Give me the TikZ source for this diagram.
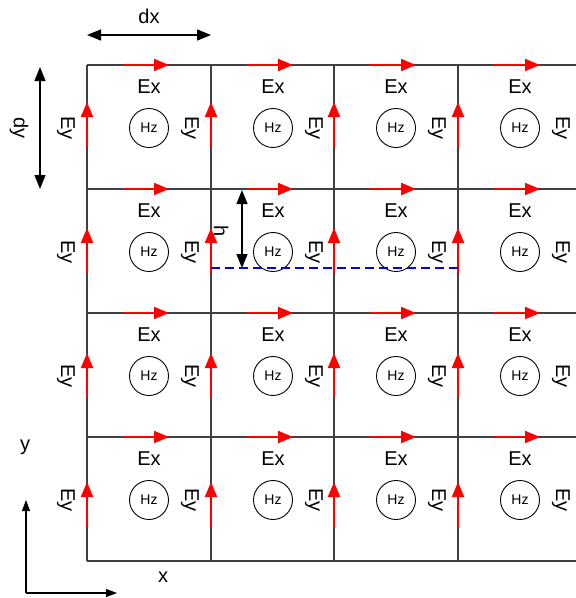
\documentclass[tikz,border=0pt]{standalone}
\usepackage{fontspec}
\setmainfont{Liberation Sans}
\usetikzlibrary{arrows.meta}
\begin{document}
\begin{tikzpicture}
[x=1pt,y=-1pt,every node/.style={inner sep=0pt},
 grid/.style={draw=black!75,line width=1.3pt},
 efield/.style={draw=red,line width=2pt,-{Triangle[length=15pt,width=12pt]}},
 dim/.style={draw=black,line width=1.3pt,{Triangle[length=14pt,width=11pt]}-{Triangle[length=14pt,width=11pt]}},
 axis/.style={draw=black,line width=1.1pt,-{Triangle[length=11pt,width=8pt]}},
 lbl/.style={font=\fontsize{20}{22}\selectfont},
 hz/.style={circle,draw=black,line width=0.9pt,minimum size=39pt,font=\fontsize{14}{16}\selectfont}]
\useasboundingbox (0,0) rectangle (576,598);
\def \top {65}
\def \bot {561}
% grid lines
\foreach \c [count=\i] in {87,211,334,458}
{
  \coordinate (vt\i) at (\c,\top);
  \coordinate (vb\i) at (\c,\bot);
  \draw[grid] (vt\i) -- (vb\i);
}
\foreach \r [count=\j] in {65,189,313,437,561}
{
  \coordinate (hl\j) at (87,\r);
  \coordinate (hr\j) at (582,\r);
  \draw[grid] (hl\j) -- (hr\j);
}
% cells: Ex, Ey, Hz
\foreach \r/\t [count=\j] in {65/102,189/228,313/353,437/482}
{
  \node[lbl,rotate=-90] (eyl\j) at (66,\r+63) {Ey};
  \foreach \c [count=\i] in {87,211,334,458}
  {
    \node[hz] (hz\i\j) at (\c+62,\r+63) {Hz};
    \node[lbl] (ex\i\j) at (\c+62,\r+22) {Ex};
    \node[lbl,rotate=-90] (ey\i\j) at (\c+103,\r+63) {Ey};
    \coordinate (exa\i\j) at (\c+36,\r);
    \coordinate (exb\i\j) at (\c+82,\r);
    \draw[efield] (exa\i\j) -- (exb\i\j);
    \coordinate (eya\i\j) at (\c,\t+45);
    \coordinate (eyb\i\j) at (\c,\t);
    \draw[efield] (eya\i\j) -- (eyb\i\j);
  }
}
% cell size
\coordinate (dxa) at (87,35);
\coordinate (dxb) at (211,35);
\draw[dim] (dxa) -- (dxb);
\node[lbl] (dx) at (149,16) {dx};
\coordinate (dya) at (40,67);
\coordinate (dyb) at (40,189);
\draw[dim] (dya) -- (dyb);
\node[lbl,rotate=-90] (dy) at (19,128) {dy};
% height h
\coordinate (ha) at (211,268);
\coordinate (hb) at (458,268);
\draw[blue,line width=2pt,dash pattern=on 9pt off 5pt] (ha) -- (hb);
\coordinate (hta) at (242,190);
\coordinate (htb) at (242,268);
\draw[dim] (hta) -- (htb);
\node[lbl,rotate=-90] (h) at (221,231) {h};
% axes
\coordinate (o) at (26,593);
\coordinate (ax) at (117,593);
\coordinate (ay) at (26,500);
\draw[axis] (o) -- (ax);
\draw[axis] (o) -- (ay);
\node[lbl] (x) at (163,577) {x};
\node[lbl] (y) at (25,447) {y};
\end{tikzpicture}
\end{document}
